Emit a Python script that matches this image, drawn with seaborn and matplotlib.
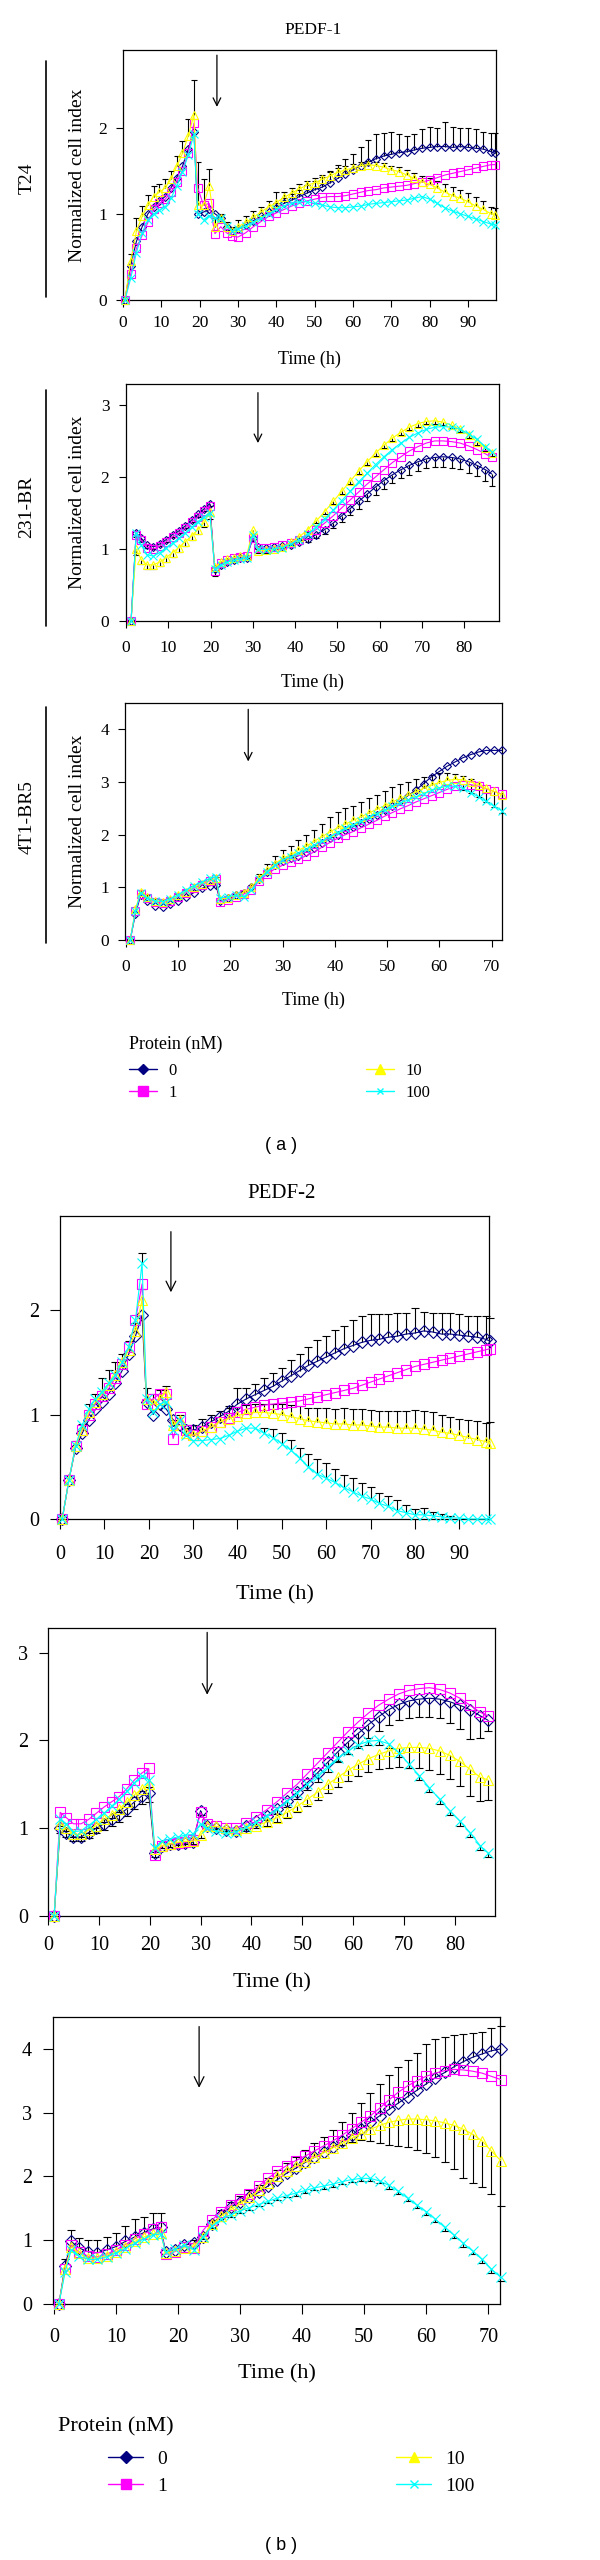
import numpy as np
import matplotlib
matplotlib.use("Agg")
import matplotlib.pyplot as plt
from matplotlib.lines import Line2D
import seaborn as sns


# =============================================================================
#                              DATA
# =============================================================================
doses = ["0", "1", "10", "100"]

# ---- T24, time points (h)
time_t24 = [0.5, 2, 3.5, 5, 6.5, 8, 9.5, 11, 12.5, 14, 15.5, 17, 18.5, 19.5, 21, 22.5, 24, 25.5, 27, 28.5, 30,
            32, 34, 36, 38, 40, 42, 44, 46, 48, 50, 52, 54, 56, 58, 60, 62, 64, 66, 68, 70, 72, 74, 76, 78,
            80, 82, 84, 86, 88, 90, 92, 94, 96, 97]

pedf1_t24_0 = [0, 0.40, 0.68, 0.85, 1.00, 1.08, 1.15, 1.20, 1.30, 1.42, 1.55, 1.75, 1.95, 1.00, 1.02, 1.05, 1.00, 0.95, 0.85, 0.80, 0.82,
               0.87, 0.92, 0.97, 1.02, 1.07, 1.12, 1.16, 1.20, 1.24, 1.28, 1.31, 1.36, 1.41, 1.46, 1.51, 1.56, 1.60, 1.64, 1.67,
               1.69, 1.71, 1.72, 1.74, 1.76, 1.77, 1.78, 1.78, 1.77, 1.78, 1.77, 1.76, 1.75, 1.72, 1.70]
pedf1_t24_0_up = [0, 0, 0, 0, 0, 0, 0, 0, 0, 0, 0, 0, 0, 0, 0, 0, 0, 0, 0, 0, 0,
                  0, 0, 0, 0, 0.05, 0.06, 0.07, 0.08, 0.09, 0.10, 0.12, 0.14, 0.16, 0.18, 0.18, 0.22, 0.26, 0.28, 0.27,
                  0.26, 0.22, 0.18, 0.18, 0.22, 0.24, 0.22, 0.28, 0.24, 0.22, 0.23, 0.22, 0.20, 0.22, 0.24]
pedf1_t24_1 = [0, 0.30, 0.60, 0.75, 0.90, 1.05, 1.12, 1.17, 1.25, 1.37, 1.50, 1.70, 2.05, 1.30, 1.10, 1.12, 0.77, 0.85, 0.78, 0.74, 0.73,
               0.78, 0.85, 0.91, 0.97, 1.01, 1.05, 1.09, 1.12, 1.15, 1.17, 1.19, 1.20, 1.20, 1.21, 1.23, 1.25, 1.27, 1.28, 1.30,
               1.31, 1.32, 1.33, 1.35, 1.37, 1.39, 1.42, 1.45, 1.47, 1.49, 1.51, 1.53, 1.55, 1.57, 1.57]
pedf1_t24_10 = [0, 0.45, 0.80, 0.97, 1.10, 1.20, 1.25, 1.30, 1.40, 1.55, 1.70, 1.90, 2.15, 1.10, 1.10, 1.32, 0.85, 0.95, 0.85, 0.80, 0.85,
                0.90, 0.96, 1.02, 1.08, 1.13, 1.19, 1.24, 1.29, 1.33, 1.36, 1.40, 1.44, 1.48, 1.51, 1.53, 1.56, 1.57, 1.56, 1.54,
                1.51, 1.49, 1.45, 1.41, 1.37, 1.34, 1.30, 1.25, 1.21, 1.18, 1.14, 1.09, 1.05, 1.00, 0.99]
pedf1_t24_10_up = [0, 0.08, 0.15, 0.12, 0.12, 0.12, 0.10, 0.10, 0.10, 0.12, 0.15, 0.20, 0.40, 0.50, 0.30, 0.20, 0.10, 0.05, 0.05, 0.05, 0.08,
                   0.08, 0.07, 0.06, 0.07, 0.12, 0.06, 0.06, 0.06, 0.05, 0.05, 0.05, 0.05, 0.05, 0.05, 0.05, 0.04, 0.04, 0.04, 0.05,
                   0.05, 0.05, 0.06, 0.06, 0.07, 0.08, 0.08, 0.09, 0.10, 0.10, 0.10, 0.10, 0.10, 0.08, 0.08]
pedf1_t24_100 = [0, 0.25, 0.55, 0.78, 0.93, 1.00, 1.04, 1.08, 1.18, 1.32, 1.48, 1.68, 1.92, 1.00, 0.93, 0.98, 0.95, 0.95, 0.86, 0.80, 0.82,
                 0.86, 0.90, 0.95, 1.00, 1.05, 1.09, 1.12, 1.14, 1.14, 1.12, 1.10, 1.08, 1.07, 1.07, 1.08, 1.09, 1.11, 1.12, 1.13,
                 1.14, 1.15, 1.16, 1.18, 1.20, 1.17, 1.12, 1.07, 1.03, 1.00, 0.97, 0.94, 0.91, 0.88, 0.87]

pedf2_t24_0 = [0, 0.37, 0.68, 0.82, 0.95, 1.05, 1.12, 1.20, 1.30, 1.42, 1.58, 1.75, 1.95, 1.12, 1.00, 1.10, 1.05, 0.95, 0.90, 0.85, 0.85,
               0.88, 0.93, 0.98, 1.03, 1.10, 1.15, 1.19, 1.23, 1.27, 1.32, 1.37, 1.42, 1.47, 1.51, 1.55, 1.59, 1.63, 1.66, 1.69,
               1.71, 1.72, 1.74, 1.75, 1.77, 1.78, 1.80, 1.79, 1.77, 1.77, 1.76, 1.75, 1.74, 1.72, 1.70]
pedf2_t24_0_up = [0, 0, 0, 0, 0, 0, 0, 0, 0, 0, 0, 0, 0, 0, 0, 0, 0, 0, 0, 0, 0,
                  0, 0, 0, 0.05, 0.15, 0.10, 0.10, 0.12, 0.13, 0.13, 0.15, 0.16, 0.18, 0.20, 0.20, 0.22, 0.22, 0.24, 0.25,
                  0.25, 0.24, 0.22, 0.22, 0.20, 0.24, 0.18, 0.18, 0.20, 0.20, 0.20, 0.19, 0.20, 0.22, 0.22]
pedf2_t24_1 = [0, 0.37, 0.70, 0.85, 1.00, 1.10, 1.18, 1.25, 1.35, 1.48, 1.65, 1.90, 2.25, 1.10, 1.15, 1.20, 1.20, 0.77, 0.98, 0.85, 0.80,
               0.84, 0.88, 0.93, 0.97, 1.02, 1.05, 1.07, 1.09, 1.10, 1.11, 1.12, 1.13, 1.15, 1.17, 1.19, 1.21, 1.23, 1.25, 1.28,
               1.31, 1.34, 1.37, 1.40, 1.43, 1.46, 1.48, 1.50, 1.52, 1.54, 1.56, 1.58, 1.60, 1.62, 1.63]
pedf2_t24_10 = [0, 0.37, 0.70, 0.85, 1.02, 1.12, 1.20, 1.28, 1.38, 1.50, 1.62, 1.80, 2.10, 1.15, 1.10, 1.15, 1.22, 0.90, 0.95, 0.82, 0.80,
                0.84, 0.88, 0.93, 0.96, 0.99, 1.01, 1.02, 1.02, 1.01, 1.00, 0.98, 0.96, 0.94, 0.93, 0.92, 0.91, 0.91, 0.90, 0.90,
                0.89, 0.88, 0.88, 0.87, 0.87, 0.87, 0.86, 0.85, 0.83, 0.82, 0.80, 0.78, 0.76, 0.74, 0.73]
pedf2_t24_10_up = [0, 0, 0.05, 0.06, 0.08, 0.08, 0.15, 0.15, 0.12, 0.08, 0.08, 0.08, 0.10, 0.10, 0.10, 0.08, 0.05, 0.05, 0.05, 0.05, 0.10,
                   0.12, 0.12, 0.10, 0.10, 0.08, 0.08, 0.08, 0.08, 0.09, 0.10, 0.11, 0.12, 0.12, 0.13, 0.14, 0.14, 0.15, 0.15, 0.15,
                   0.15, 0.15, 0.15, 0.16, 0.16, 0.17, 0.17, 0.17, 0.17, 0.16, 0.16, 0.17, 0.18, 0.18, 0.20]
pedf2_t24_100 = [0, 0.37, 0.70, 0.90, 1.05, 1.15, 1.22, 1.30, 1.38, 1.50, 1.65, 1.90, 2.45, 1.15, 1.02, 1.10, 1.12, 0.85, 0.95, 0.80, 0.75,
                 0.75, 0.76, 0.77, 0.80, 0.84, 0.87, 0.87, 0.82, 0.78, 0.72, 0.66, 0.58, 0.50, 0.43, 0.39, 0.35, 0.30, 0.26, 0.22,
                 0.19, 0.15, 0.12, 0.08, 0.06, 0.04, 0.04, 0.03, 0.02, 0.01, 0.01, 0.0, 0.0, 0.0, 0.0]
pedf2_t24_100_up = [0, 0, 0, 0, 0, 0, 0, 0, 0, 0, 0, 0, 0.10, 0, 0, 0, 0, 0, 0, 0, 0,
                    0, 0, 0, 0, 0, 0, 0, 0.05, 0.08, 0.10, 0.10, 0.10, 0.12, 0.14, 0.15, 0.13, 0.12, 0.13, 0.12,
                    0.12, 0.10, 0.10, 0.10, 0.07, 0.06, 0.07, 0.04, 0.03, 0.02, 0, 0, 0, 0, 0]

# ---- 231-BR, time points (h)
time_231br = [1.2, 2.4, 3.6, 5, 6.5, 8, 9.5, 11, 12.5, 14, 15.5, 17, 18.5, 19.8, 21, 22.5, 24, 25.5, 27, 28.5, 30, 31.2,
              33, 35, 37, 39, 41, 43, 45, 47, 49, 51, 53, 55, 57, 59, 61, 63, 65, 67, 69, 71, 73, 75, 77, 79, 81, 83, 85, 86.5]

pedf1_231_0 = [0, 1.22, 1.15, 1.05, 1.03, 1.07, 1.13, 1.20, 1.25, 1.32, 1.40, 1.48, 1.56, 1.63, 0.72, 0.78, 0.82, 0.85, 0.87, 0.88, 1.15, 1.03,
               1.02, 1.03, 1.04, 1.06, 1.10, 1.14, 1.20, 1.27, 1.36, 1.46, 1.56, 1.66, 1.76, 1.86, 1.95, 2.03, 2.10, 2.16,
               2.21, 2.25, 2.27, 2.28, 2.27, 2.25, 2.21, 2.16, 2.10, 2.04]
pedf1_231_0_dn = [0, 0.05, 0.05, 0.03, 0.03, 0.03, 0.03, 0.03, 0.03, 0.03, 0.03, 0.03, 0.03, 0.03, 0.10, 0.03, 0.03, 0.03, 0.03, 0.03, 0.05, 0.03,
                  0.03, 0.03, 0.03, 0.03, 0.03, 0.04, 0.05, 0.06, 0.07, 0.08, 0.09, 0.10, 0.10, 0.11, 0.12, 0.12, 0.12, 0.13,
                  0.13, 0.13, 0.13, 0.14, 0.14, 0.14, 0.15, 0.15, 0.15, 0.16]
pedf1_231_1 = [0, 1.20, 1.12, 1.02, 1.00, 1.04, 1.10, 1.17, 1.22, 1.29, 1.37, 1.45, 1.53, 1.60, 0.70, 0.80, 0.84, 0.87, 0.89, 0.90, 1.15, 1.02,
               1.02, 1.03, 1.05, 1.08, 1.13, 1.19, 1.27, 1.36, 1.46, 1.57, 1.68, 1.79, 1.90, 2.00, 2.10, 2.20, 2.28, 2.36,
               2.42, 2.47, 2.50, 2.50, 2.49, 2.47, 2.43, 2.38, 2.32, 2.27]
pedf1_231_10 = [0, 1.00, 0.85, 0.78, 0.78, 0.82, 0.88, 0.95, 1.02, 1.10, 1.18, 1.27, 1.37, 1.52, 0.75, 0.82, 0.86, 0.88, 0.90, 0.90, 1.26, 0.97,
                0.98, 1.00, 1.03, 1.09, 1.17, 1.27, 1.39, 1.52, 1.66, 1.80, 1.94, 2.08, 2.21, 2.33, 2.44, 2.54, 2.62, 2.69,
                2.74, 2.77, 2.78, 2.76, 2.72, 2.66, 2.58, 2.49, 2.40, 2.33]
pedf1_231_10_dn = [0, 0.08, 0.06, 0.06, 0.06, 0.06, 0.06, 0.06, 0.06, 0.06, 0.06, 0.06, 0.06, 0.10, 0.05, 0.03, 0.03, 0.03, 0.03, 0.03, 0.05, 0.03,
                   0.03, 0.03, 0.03, 0.03, 0.03, 0.03, 0.03, 0.04, 0.04, 0.04, 0.04, 0.04, 0.04, 0.04, 0.04, 0.04, 0.04, 0.04,
                   0.04, 0.04, 0.04, 0.04, 0.04, 0.04, 0.04, 0.04, 0.04, 0.04]
pedf1_231_100 = [0, 1.22, 1.05, 0.92, 0.90, 0.95, 1.02, 1.08, 1.15, 1.22, 1.30, 1.38, 1.45, 1.50, 0.72, 0.78, 0.82, 0.84, 0.86, 0.87, 1.20, 1.00,
                 0.99, 1.00, 1.02, 1.07, 1.13, 1.21, 1.31, 1.42, 1.54, 1.67, 1.80, 1.93, 2.05, 2.17, 2.28, 2.38, 2.47, 2.55,
                 2.61, 2.66, 2.69, 2.70, 2.69, 2.66, 2.60, 2.52, 2.42, 2.35]

pedf2_231_0 = [0, 1.00, 0.95, 0.90, 0.90, 0.95, 1.00, 1.05, 1.10, 1.15, 1.22, 1.30, 1.37, 1.40, 0.72, 0.80, 0.82, 0.82, 0.83, 0.84, 1.20, 1.02,
               1.00, 0.98, 0.97, 1.02, 1.08, 1.14, 1.22, 1.31, 1.41, 1.52, 1.63, 1.75, 1.87, 1.98, 2.08, 2.18, 2.27, 2.35,
               2.41, 2.45, 2.47, 2.48, 2.47, 2.44, 2.40, 2.35, 2.28, 2.23]
pedf2_231_0_dn = [0, 0.05, 0.05, 0.05, 0.05, 0.06, 0.06, 0.07, 0.07, 0.08, 0.08, 0.08, 0.10, 0.10, 0.05, 0.03, 0.03, 0.03, 0.03, 0.03, 0.05, 0.03,
                  0.03, 0.03, 0.03, 0.03, 0.04, 0.05, 0.06, 0.07, 0.08, 0.09, 0.10, 0.11, 0.12, 0.13, 0.14, 0.15, 0.16, 0.17,
                  0.18, 0.19, 0.20, 0.21, 0.22, 0.24, 0.27, 0.33, 0.25, 0.12]
pedf2_231_1 = [0, 1.18, 1.12, 1.05, 1.05, 1.10, 1.17, 1.24, 1.30, 1.36, 1.45, 1.55, 1.63, 1.68, 0.70, 0.80, 0.82, 0.83, 0.84, 0.86, 1.18, 1.05,
               1.02, 1.00, 1.00, 1.06, 1.13, 1.21, 1.30, 1.40, 1.50, 1.62, 1.74, 1.86, 1.98, 2.10, 2.21, 2.31, 2.40, 2.47,
               2.53, 2.57, 2.59, 2.60, 2.58, 2.54, 2.48, 2.40, 2.32, 2.28]
pedf2_231_10 = [0, 1.05, 1.00, 0.93, 0.93, 0.98, 1.03, 1.10, 1.15, 1.22, 1.30, 1.38, 1.45, 1.50, 0.76, 0.80, 0.82, 0.84, 0.85, 0.85, 0.92, 1.02,
                1.02, 1.00, 0.98, 1.00, 1.03, 1.07, 1.12, 1.18, 1.25, 1.33, 1.41, 1.50, 1.58, 1.66, 1.73, 1.79, 1.84, 1.88,
                1.91, 1.92, 1.92, 1.91, 1.88, 1.83, 1.76, 1.67, 1.58, 1.55]
pedf2_231_10_dn = [0, 0.03, 0.03, 0.03, 0.03, 0.03, 0.03, 0.03, 0.03, 0.03, 0.03, 0.03, 0.03, 0.03, 0.03, 0.03, 0.03, 0.03, 0.03, 0.03, 0.03, 0.03,
                   0.03, 0.03, 0.03, 0.03, 0.03, 0.04, 0.05, 0.06, 0.07, 0.08, 0.09, 0.10, 0.11, 0.12, 0.13, 0.15, 0.17, 0.19,
                   0.21, 0.23, 0.24, 0.25, 0.26, 0.27, 0.28, 0.30, 0.27, 0.23]
pedf2_231_100 = [0, 1.10, 1.05, 0.96, 0.97, 1.03, 1.10, 1.17, 1.25, 1.33, 1.42, 1.52, 1.60, 1.55, 0.78, 0.85, 0.88, 0.90, 0.92, 0.93, 1.05, 1.00,
                 0.97, 0.94, 0.96, 1.01, 1.07, 1.14, 1.22, 1.31, 1.40, 1.50, 1.60, 1.70, 1.80, 1.88, 1.95, 1.99, 2.00, 1.96,
                 1.86, 1.73, 1.60, 1.46, 1.33, 1.20, 1.08, 0.95, 0.80, 0.72]
pedf2_231_100_dn = [0, 0, 0, 0, 0, 0, 0, 0, 0, 0, 0, 0, 0, 0, 0, 0, 0, 0, 0, 0, 0, 0,
                    0, 0, 0, 0, 0, 0, 0, 0, 0, 0, 0, 0, 0.03, 0.03, 0.04, 0.04, 0.05, 0.05,
                    0.05, 0.05, 0.05, 0.05, 0.05, 0.05, 0.05, 0.05, 0.05, 0.05]

# ---- 4T1-BR5, time points (h)
time_4t1 = [0.8, 1.8, 2.8, 4, 5.5, 7, 8.5, 10, 11.5, 13, 14.5, 16, 17.2, 18, 19.5, 21, 22.5,
            24, 25.5, 27, 28.5, 30, 31.5, 33, 34.5, 36, 37.5, 39, 40.5, 42, 43.5, 45, 46.5, 48, 49.5,
            51, 52.5, 54, 55.5, 57, 58.5, 60, 61.5, 63, 64.5, 66, 67.5, 69, 70.5, 72]

pedf1_4t1_0 = [0, 0.50, 0.85, 0.75, 0.65, 0.62, 0.68, 0.75, 0.82, 0.90, 0.98, 1.03, 1.05, 0.75, 0.80, 0.85, 0.90,
               1.00, 1.15, 1.30, 1.42, 1.50, 1.55, 1.60, 1.67, 1.75, 1.84, 1.93, 2.00, 2.08, 2.15, 2.22, 2.30, 2.38, 2.46,
               2.55, 2.64, 2.74, 2.85, 2.97, 3.10, 3.20, 3.30, 3.38, 3.46, 3.52, 3.57, 3.60, 3.60, 3.60]
pedf1_4t1_1 = [0, 0.55, 0.88, 0.80, 0.72, 0.70, 0.75, 0.82, 0.90, 0.98, 1.05, 1.12, 1.15, 0.72, 0.76, 0.82, 0.87,
               0.95, 1.12, 1.25, 1.35, 1.42, 1.48, 1.53, 1.60, 1.67, 1.76, 1.85, 1.93, 2.00, 2.06, 2.13, 2.20, 2.27, 2.35,
               2.42, 2.49, 2.55, 2.62, 2.68, 2.74, 2.80, 2.86, 2.92, 2.95, 2.95, 2.92, 2.87, 2.82, 2.77]
pedf1_4t1_1_dn = [0, 0, 0, 0, 0, 0, 0, 0, 0, 0, 0, 0, 0, 0, 0, 0, 0,
                  0, 0, 0, 0, 0, 0, 0, 0, 0, 0, 0, 0, 0, 0, 0, 0, 0, 0,
                  0, 0, 0, 0, 0, 0, 0, 0, 0, 0.10, 0.15, 0.20, 0.25, 0.30, 0.35]
pedf1_4t1_10 = [0, 0.58, 0.92, 0.82, 0.75, 0.73, 0.77, 0.85, 0.92, 1.00, 1.07, 1.13, 1.17, 0.77, 0.80, 0.85, 0.90,
                1.00, 1.18, 1.32, 1.45, 1.55, 1.62, 1.70, 1.78, 1.87, 1.96, 2.05, 2.13, 2.20, 2.27, 2.34, 2.41, 2.48, 2.55,
                2.62, 2.69, 2.75, 2.81, 2.88, 2.94, 2.99, 3.03, 3.05, 3.04, 3.00, 2.95, 2.88, 2.82, 2.76]
pedf1_4t1_10_up = [0, 0, 0.03, 0.03, 0.03, 0.03, 0.03, 0.03, 0.03, 0.03, 0.03, 0.03, 0.03, 0.03, 0.03, 0.03, 0.03,
                   0.05, 0.08, 0.12, 0.15, 0.15, 0.17, 0.20, 0.22, 0.22, 0.25, 0.28, 0.30, 0.30, 0.28, 0.28, 0.28, 0.28, 0.28,
                   0.28, 0.28, 0.25, 0.25, 0.22, 0.20, 0.18, 0.15, 0.10, 0.08, 0.06, 0.05, 0, 0, 0]
pedf1_4t1_100 = [0, 0.55, 0.90, 0.80, 0.74, 0.73, 0.78, 0.86, 0.95, 1.03, 1.10, 1.17, 1.20, 0.80, 0.82, 0.85, 0.82,
                 0.95, 1.15, 1.30, 1.42, 1.52, 1.58, 1.65, 1.72, 1.80, 1.88, 1.96, 2.04, 2.12, 2.19, 2.26, 2.33, 2.40, 2.47,
                 2.54, 2.60, 2.66, 2.72, 2.78, 2.84, 2.89, 2.92, 2.92, 2.88, 2.80, 2.72, 2.63, 2.54, 2.45]

pedf2_4t1_0 = [0, 0.60, 0.98, 0.88, 0.82, 0.80, 0.85, 0.90, 0.98, 1.05, 1.12, 1.18, 1.20, 0.82, 0.85, 0.92, 0.95,
               1.05, 1.25, 1.40, 1.52, 1.60, 1.67, 1.75, 1.85, 1.95, 2.05, 2.13, 2.22, 2.30, 2.38, 2.46, 2.55, 2.65, 2.75,
               2.85, 2.95, 3.05, 3.15, 3.25, 3.35, 3.45, 3.55, 3.63, 3.72, 3.80, 3.87, 3.92, 3.97, 4.00]
pedf2_4t1_0_up = [0, 0.10, 0.18, 0.15, 0.18, 0.20, 0.20, 0.22, 0.25, 0.28, 0.25, 0.25, 0.22, 0.05, 0.05, 0.05, 0.05,
                  0.05, 0.06, 0.07, 0.08, 0.10, 0.11, 0.12, 0.13, 0.15, 0.16, 0.18, 0.20, 0.22, 0.24, 0.27, 0.30, 0.34, 0.40,
                  0.46, 0.50, 0.54, 0.57, 0.57, 0.58, 0.62, 0.60, 0.56, 0.50, 0.44, 0.38, 0.34, 0.35, 0.36]
pedf2_4t1_1 = [0, 0.55, 0.92, 0.82, 0.75, 0.74, 0.78, 0.85, 0.93, 1.02, 1.10, 1.17, 1.20, 0.78, 0.82, 0.90, 0.88,
               1.15, 1.32, 1.45, 1.55, 1.65, 1.73, 1.85, 1.97, 2.08, 2.17, 2.25, 2.32, 2.40, 2.48, 2.56, 2.65, 2.75, 2.85,
               2.95, 3.07, 3.20, 3.32, 3.42, 3.50, 3.57, 3.62, 3.66, 3.68, 3.67, 3.65, 3.62, 3.57, 3.52]
pedf2_4t1_10 = [0, 0.55, 0.90, 0.80, 0.72, 0.72, 0.76, 0.82, 0.90, 0.98, 1.05, 1.10, 1.12, 0.80, 0.83, 0.88, 0.90,
                1.05, 1.25, 1.38, 1.48, 1.57, 1.67, 1.78, 1.90, 2.00, 2.08, 2.16, 2.23, 2.30, 2.37, 2.45, 2.52, 2.60, 2.67,
                2.74, 2.80, 2.85, 2.88, 2.90, 2.90, 2.89, 2.87, 2.84, 2.80, 2.74, 2.66, 2.56, 2.40, 2.25]
pedf2_4t1_10_dn = [0, 0, 0, 0, 0, 0, 0, 0, 0, 0, 0, 0, 0, 0, 0, 0, 0,
                   0, 0, 0, 0, 0, 0, 0, 0, 0, 0, 0, 0, 0, 0, 0, 0.03, 0.06, 0.10,
                   0.18, 0.28, 0.36, 0.40, 0.44, 0.48, 0.52, 0.56, 0.62, 0.68, 0.76, 0.76, 0.72, 0.68, 0.72]
pedf2_4t1_100 = [0, 0.50, 0.85, 0.75, 0.70, 0.70, 0.74, 0.80, 0.87, 0.95, 1.02, 1.08, 1.10, 0.82, 0.86, 0.92, 0.85,
                 1.05, 1.22, 1.33, 1.40, 1.46, 1.51, 1.56, 1.61, 1.66, 1.70, 1.74, 1.78, 1.82, 1.85, 1.88, 1.92, 1.95, 1.97,
                 1.97, 1.93, 1.86, 1.77, 1.66, 1.55, 1.45, 1.33, 1.20, 1.08, 0.95, 0.83, 0.70, 0.55, 0.42]
pedf2_4t1_100_dn = [0, 0, 0, 0, 0, 0, 0, 0, 0, 0, 0, 0, 0, 0, 0, 0, 0,
                    0.03, 0.03, 0.03, 0.03, 0.03, 0.03, 0.03, 0.03, 0.03, 0.03, 0.04, 0.04, 0.04, 0.04, 0.04, 0.04, 0.04, 0.04,
                    0.04, 0.04, 0.05, 0.05, 0.05, 0.05, 0.05, 0.05, 0.05, 0.05, 0.05, 0.05, 0.05, 0.06, 0.06]


# =============================================================================
#                              STYLE
# =============================================================================
sns.set_style("ticks")
plt.rcParams["font.family"] = ["Liberation Serif", "DejaVu Serif"]
plt.rcParams["axes.linewidth"] = 0.9
plt.rcParams["axes.edgecolor"] = "black"
plt.rcParams["xtick.color"] = "black"
plt.rcParams["ytick.color"] = "black"
plt.rcParams["text.color"] = "black"

colors = {"0": "#000080", "1": "#ff00ff", "10": "#ffff00", "100": "#00ffff"}
markers = {"0": "D", "1": "s", "10": "^", "100": "x"}
small_ms = {"0": 4.5, "1": 6.0, "10": 6.0, "100": 5.5}
big_ms = {"0": 6.0, "1": 7.5, "10": 7.5, "100": 7.0}

W, H = 600, 2560
fig = plt.figure(figsize=(W / 100, H / 100), dpi=100)


def fx(x):
    return x / W


def fy(y):
    return 1 - y / H


panels = [
    dict(box=(123, 50, 496, 300), time=time_t24, xlim=(0, 97.3), ylim=(0, 2.9),
         xticks=range(0, 91, 10), yticks=[0, 1, 2],
         series=[pedf1_t24_0, pedf1_t24_1, pedf1_t24_10, pedf1_t24_100],
         bars=[(pedf1_t24_0, pedf1_t24_0_up, 1), (pedf1_t24_10, pedf1_t24_10_up, 1)],
         arrow_t=24.5, arrow_y=(2.84, 2.24), head=11,
         ms=small_ms, cap=5, tfs=12.5, tlen=5, xpad=6, ypad=6.5,
         xlabel_y=359, xfs=13),
    dict(box=(126, 384, 499, 621), time=time_231br, xlim=(0, 88.2), ylim=(0, 3.29),
         xticks=range(0, 81, 10), yticks=[0, 1, 2, 3],
         series=[pedf1_231_0, pedf1_231_1, pedf1_231_10, pedf1_231_100],
         bars=[(pedf1_231_0, pedf1_231_0_dn, -1), (pedf1_231_10, pedf1_231_10_dn, -1)],
         arrow_t=31.2, arrow_y=(3.17, 2.47), head=11,
         ms=small_ms, cap=5, tfs=12.5, tlen=5, xpad=8.5, ypad=7,
         xlabel_y=682, xfs=13),
    dict(box=(125, 703, 502, 940), time=time_4t1, xlim=(-0.2, 72.0), ylim=(0, 4.5),
         xticks=range(0, 71, 10), yticks=[0, 1, 2, 3, 4],
         series=[pedf1_4t1_0, pedf1_4t1_1, pedf1_4t1_10, pedf1_4t1_100],
         bars=[(pedf1_4t1_10, pedf1_4t1_10_up, 1), (pedf1_4t1_1, pedf1_4t1_1_dn, -1)],
         arrow_t=23.4, arrow_y=(4.38, 3.39), head=11,
         ms=small_ms, cap=5, tfs=12.5, tlen=5, xpad=9, ypad=6.5,
         xlabel_y=1000, xfs=13),
    dict(box=(60, 1216, 489, 1519), time=time_t24, xlim=(0, 96.7), ylim=(0, 2.9),
         xticks=range(0, 91, 10), yticks=[0, 1, 2],
         series=[pedf2_t24_0, pedf2_t24_1, pedf2_t24_10, pedf2_t24_100],
         bars=[(pedf2_t24_0, pedf2_t24_0_up, 1), (pedf2_t24_10, pedf2_t24_10_up, 1),
               (pedf2_t24_100, pedf2_t24_100_up, 1)],
         arrow_t=25.0, arrow_y=(2.75, 2.17), head=14,
         ms=big_ms, cap=6, tfs=14.5, tlen=7, xpad=12, ypad=8,
         xlabel_y=1595, xfs=16),
    dict(box=(48, 1628, 495, 1916), time=time_231br, xlim=(0, 87.9), ylim=(0, 3.28),
         xticks=range(0, 81, 10), yticks=[0, 1, 2, 3],
         series=[pedf2_231_0, pedf2_231_1, pedf2_231_10, pedf2_231_100],
         bars=[(pedf2_231_0, pedf2_231_0_dn, -1), (pedf2_231_10, pedf2_231_10_dn, -1),
               (pedf2_231_100, pedf2_231_100_dn, -1)],
         arrow_t=31.3, arrow_y=(3.23, 2.52), head=14,
         ms=big_ms, cap=6, tfs=14.5, tlen=6.5, xpad=8, ypad=8,
         xlabel_y=1983, xfs=16),
    dict(box=(53, 2017, 500, 2304), time=time_4t1, xlim=(-0.15, 71.9), ylim=(0, 4.5),
         xticks=range(0, 71, 10), yticks=[0, 1, 2, 3, 4],
         series=[pedf2_4t1_0, pedf2_4t1_1, pedf2_4t1_10, pedf2_4t1_100],
         bars=[(pedf2_4t1_0, pedf2_4t1_0_up, 1), (pedf2_4t1_10, pedf2_4t1_10_dn, -1),
               (pedf2_4t1_100, pedf2_4t1_100_dn, -1)],
         arrow_t=23.4, arrow_y=(4.35, 3.39), head=14,
         ms=big_ms, cap=6, tfs=14.5, tlen=7, xpad=10.5, ypad=8,
         xlabel_y=2374, xfs=16),
]


# =============================================================================
#                              PANELS
# =============================================================================
for p in panels:
    l, t, r, b = p["box"]
    ax = fig.add_axes([fx(l), fy(b), (r - l) / W, (b - t) / H])
    tm = np.array(p["time"], dtype=float)

    # black error bars (one side only) under the curves
    for vals, err, sign in p["bars"]:
        y = np.array(vals, dtype=float)
        e = np.array(err, dtype=float)
        m = e > 0
        tip = y + sign * e
        ax.vlines(tm[m], y[m], tip[m], color="black", lw=0.8, zorder=2)
        ax.plot(tm[m], tip[m], ls="none", marker="_", markersize=p["cap"],
                mew=0.8, color="black", zorder=2, clip_on=False)

    for key, vals in zip(doses, p["series"]):
        sns.lineplot(x=tm, y=vals, ax=ax, color=colors[key], marker=markers[key],
                     markersize=p["ms"][key], mec=colors[key], mfc="none", mew=0.8,
                     lw=0.8, errorbar=None, legend=False, clip_on=False, zorder=3)

    ax.annotate("", xy=(p["arrow_t"], p["arrow_y"][1]), xytext=(p["arrow_t"], p["arrow_y"][0]),
                arrowprops=dict(arrowstyle="->,head_length=0.5,head_width=0.25", lw=0.9,
                                color="black", shrinkA=0, shrinkB=0, mutation_scale=p["head"]))

    ax.set_xlim(*p["xlim"])
    ax.set_ylim(*p["ylim"])
    ax.set_xticks(list(p["xticks"]))
    ax.set_yticks(p["yticks"])
    ax.tick_params(axis="both", direction="out", length=p["tlen"], width=0.8, labelsize=p["tfs"])
    ax.tick_params(axis="x", pad=p["xpad"])
    ax.tick_params(axis="y", pad=p["ypad"])
    ax.set_xlabel("")
    ax.set_ylabel("")
    for s in ax.spines.values():
        s.set_visible(True)

    fig.text(fx((l + r) / 2), fy(p["xlabel_y"]), "Time (h)", ha="center", va="center", fontsize=p["xfs"])


# =============================================================================
#                              TEXTS, SIDE LABELS
# =============================================================================
fig.text(fx(313), fy(30), "PEDF-1", ha="center", va="center", fontsize=12.5)
fig.text(fx(282), fy(1193), "PEDF-2", ha="center", va="center", fontsize=15)

for name, yc, (y1, y2), pan in [("T24", 178, (61, 297), panels[0]),
                                ("231-BR", 507, (390, 626), panels[1]),
                                ("4T1-BR5", 817, (707, 943), panels[2])]:
    fig.text(fx(27), fy(yc), name, rotation=90, ha="center", va="center", fontsize=14)
    fig.add_artist(Line2D([fx(46), fx(46)], [fy(y1), fy(y2)], transform=fig.transFigure,
                          color="black", lw=1.2))
    top, bot = pan["box"][1], pan["box"][3]
    fig.text(fx(77), fy((top + bot) / 2), "Normalized cell index", rotation=90,
             ha="center", va="center", fontsize=14)


# =============================================================================
#                              LEGENDS
# =============================================================================
def make_handles(sizes):
    return [Line2D([], [], color=colors[k], marker=markers[k], mfc=colors[k], mec=colors[k],
                   markersize=sizes[k], lw=1.0, mew=1.0) for k in doses]


leg_a = {"0": 5, "1": 6.5, "10": 6.5, "100": 5}
leg_b = {"0": 6, "1": 7.5, "10": 7.5, "100": 6}

fig.text(fx(129), fy(1044), "Protein (nM)", ha="left", va="center", fontsize=13)
fig.legend(make_handles(leg_a), doses, ncol=2, loc="upper left",
           bbox_to_anchor=(fx(129), fy(1063)), frameon=False, fontsize=12,
           handlelength=1.68, handletextpad=0.66, columnspacing=11.4, labelspacing=0.35,
           borderpad=0, borderaxespad=0)
fig.text(fx(281), fy(1145), "( a )", ha="center", va="center", fontsize=13,
         family=["Liberation Sans", "DejaVu Sans"])

fig.text(fx(58), fy(2427), "Protein (nM)", ha="left", va="center", fontsize=16)
fig.legend(make_handles(leg_b), doses, ncol=2, loc="upper left",
           bbox_to_anchor=(fx(108), fy(2450)), frameon=False, fontsize=14,
           handlelength=1.8, handletextpad=0.72, columnspacing=11.8, labelspacing=0.5,
           borderpad=0, borderaxespad=0)
fig.text(fx(281), fy(2545), "( b )", ha="center", va="center", fontsize=13,
         family=["Liberation Sans", "DejaVu Sans"])

fig.savefig("out.png", dpi=100)
